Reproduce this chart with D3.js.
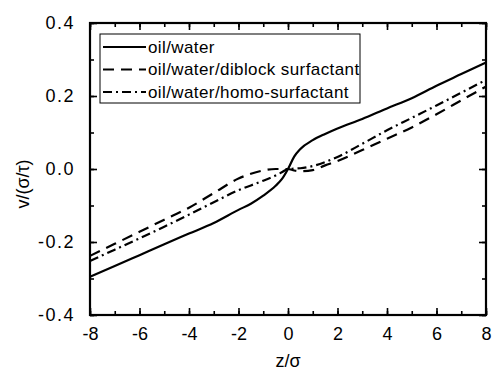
<!DOCTYPE html>
<html>
<head>
<meta charset="utf-8">
<script src="https://cdn.jsdelivr.net/npm/d3@7"></script>
<style>
  html, body { margin: 0; padding: 0; background: #fff; }
  svg { display: block; font-family: "Liberation Sans", Arial, sans-serif; }
</style>
</head>
<body>
<div id="chart"></div>
<script>
const width = 492;
const height = 371;
const margin = { top: 23, right: 6, bottom: 56, left: 90 };

// z/sigma sample positions
const zValues = [-8, -7, -6, -5, -4, -3, -2, -1.5, -1, -0.5, -0.25, 0, 0.25, 0.5, 1, 1.5, 2, 3, 4, 5, 6, 7, 8];

// velocity profiles
const oilWater = [-0.295, -0.266, -0.236, -0.206, -0.177, -0.148, -0.112, -0.095, -0.073, -0.046, -0.028, 0, 0.034, 0.055, 0.079, 0.096, 0.111, 0.137, 0.166, 0.194, 0.228, 0.260, 0.292];
const diblock = [-0.238, -0.205, -0.172, -0.139, -0.106, -0.066, -0.026, -0.013, -0.004, 0.000, 0.000, 0, -0.004, -0.006, -0.003, 0.010, 0.022, 0.052, 0.083, 0.114, 0.150, 0.188, 0.226];
const homo = [-0.252, -0.221, -0.190, -0.158, -0.125, -0.091, -0.058, -0.045, -0.032, -0.018, -0.009, 0, 0.001, 0.002, 0.008, 0.019, 0.033, 0.069, 0.106, 0.140, 0.174, 0.209, 0.244];

const seriesNames = ['oil/water', 'oil/water/diblock surfactant', 'oil/water/homo-surfactant'];
const seriesValues = [oilWater, diblock, homo];
const dashes = [null, '11,7', '9,4,2,4'];

const xTicks = [-8, -6, -4, -2, 0, 2, 4, 6, 8];
const yTicks = [-0.4, -0.2, 0.0, 0.2, 0.4];

const plotW = width - margin.left - margin.right;
const plotH = height - margin.top - margin.bottom;

// plain hyphen minus like the original
const fmtX = d => d3.format('d')(d).replace('\u2212', '-');
const fmtY = d => d3.format('.1f')(d).replace('\u2212', '-');

const svg = d3.select('#chart').append('svg')
    .attr('width', width)
    .attr('height', height);

const g = svg.append('g')
    .attr('transform', `translate(${margin.left},${margin.top})`);

const x = d3.scaleLinear().domain([-8, 8]).range([0, plotW]);
const y = d3.scaleLinear().domain([-0.4, 0.4]).range([plotH, 0]);

const minorX = d3.range(-8, 8.01, 1);
const minorY = d3.range(-0.4, 0.401, 0.1);

function styleAxis(sel) {
    sel.select('.domain').remove();
    sel.selectAll('line').attr('stroke', '#000').attr('stroke-width', 1.6);
    sel.selectAll('text').attr('fill', '#000');
}

// minor ticks (all four sides)
g.append('g').attr('transform', `translate(0,${plotH})`)
    .call(d3.axisBottom(x).tickValues(minorX).tickSize(-4).tickFormat(''))
    .call(styleAxis);
g.append('g')
    .call(d3.axisTop(x).tickValues(minorX).tickSize(-4).tickFormat(''))
    .call(styleAxis);
g.append('g')
    .call(d3.axisLeft(y).tickValues(minorY).tickSize(-4).tickFormat(''))
    .call(styleAxis);
g.append('g').attr('transform', `translate(${plotW},0)`)
    .call(d3.axisRight(y).tickValues(minorY).tickSize(-4).tickFormat(''))
    .call(styleAxis);

// major ticks with labels
g.append('g').attr('transform', `translate(0,${plotH})`)
    .call(d3.axisBottom(x).tickValues(xTicks).tickSize(-7).tickPadding(12).tickFormat(fmtX))
    .call(styleAxis)
    .call(a => a.selectAll('text').attr('font-size', 18).attr('dy', '0.71em'));
g.append('g')
    .call(d3.axisTop(x).tickValues(xTicks).tickSize(-7).tickFormat(''))
    .call(styleAxis);
g.append('g')
    .call(d3.axisLeft(y).tickValues(yTicks).tickSize(-7).tickPadding(15).tickFormat(fmtY))
    .call(styleAxis)
    .call(a => a.selectAll('text').attr('font-size', 18).attr('letter-spacing', 1.5));
g.append('g').attr('transform', `translate(${plotW},0)`)
    .call(d3.axisRight(y).tickValues(yTicks).tickSize(-7).tickFormat(''))
    .call(styleAxis);

// frame
g.append('rect')
    .attr('width', plotW)
    .attr('height', plotH)
    .attr('fill', 'none')
    .attr('stroke', '#000')
    .attr('stroke-width', 2.2);

// curves
const line = d3.line()
    .x((d, i) => x(zValues[i]))
    .y(d => y(d))
    .curve(d3.curveMonotoneX);

g.selectAll('path.series')
    .data(seriesValues)
    .join('path')
    .attr('class', 'series')
    .attr('fill', 'none')
    .attr('stroke', '#000')
    .attr('stroke-width', 2.2)
    .attr('stroke-dasharray', (d, i) => dashes[i])
    .attr('d', line);

// legend
const legend = svg.append('g').attr('transform', 'translate(100,34)');
legend.append('rect')
    .attr('width', 260)
    .attr('height', 69)
    .attr('fill', '#fff')
    .attr('stroke', '#000')
    .attr('stroke-width', 1);

const items = legend.selectAll('g.item')
    .data(seriesNames)
    .join('g')
    .attr('class', 'item')
    .attr('transform', (d, i) => `translate(0,${13 + i * 22.5})`);

items.append('line')
    .attr('x1', 3).attr('x2', 46)
    .attr('stroke', '#000')
    .attr('stroke-width', 2.2)
    .attr('stroke-dasharray', (d, i) => dashes[i]);

items.append('text')
    .attr('x', 48)
    .attr('dy', '0.35em')
    .attr('font-size', 17)
    .attr('letter-spacing', 0.4)
    .text(d => d);

// axis titles
svg.append('text')
    .attr('x', margin.left + x(0))
    .attr('y', 367)
    .attr('text-anchor', 'middle')
    .attr('font-size', 18)
    .text('z/σ');

svg.append('text')
    .attr('transform', 'translate(29,184) rotate(-90)')
    .attr('text-anchor', 'middle')
    .attr('font-size', 18)
    .text('v/(σ/τ)');
</script>
</body>
</html>
